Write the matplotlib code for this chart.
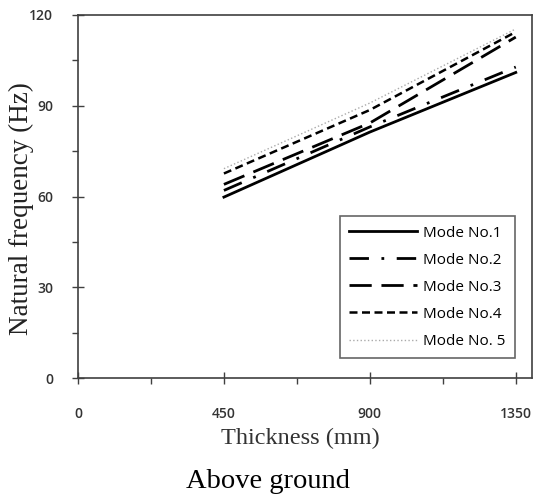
import numpy as np
import matplotlib.pyplot as plt
from matplotlib.ticker import MultipleLocator

thickness = [450, 900, 1350]
mode1 = [59.8, 81.3, 101.0]
mode2 = [62.0, 83.0, 102.8]
mode3 = [64.0, 84.3, 112.7]
mode4 = [67.6, 88.6, 114.4]
mode5 = [69.2, 90.9, 115.4]
labels = ["Mode No.1", "Mode No.2", "Mode No.3", "Mode No.4", "Mode No. 5"]

fig = plt.figure(figsize=(5.36, 5.0), dpi=100)
ax = fig.add_axes([0.1455, 0.244, 0.847, 0.726])

ax.plot(thickness, mode1, color="black", lw=2.0, label=labels[0])
ax.plot(thickness, mode2, color="black", lw=2.0, dashes=(7, 4.5, 1, 4.5), label=labels[1])
ax.plot(thickness, mode3, color="black", lw=2.0, dashes=(8, 3.5), label=labels[2])
ax.plot(thickness, mode4, color="black", lw=1.8, dashes=(3.2, 1.8), label=labels[3])
ax.plot(thickness, mode5, color="#aaaaaa", lw=1.0, ls=":", label=labels[4])

ax.set_xlim(0, 1400)
ax.set_ylim(0, 120)
ax.set_xticks([0, 450, 900, 1350])
ax.xaxis.set_minor_locator(MultipleLocator(225))
ax.set_yticks([0, 30, 60, 90, 120])
ax.yaxis.set_minor_locator(MultipleLocator(15))

tick_font = "Open Sans"
ax.tick_params(axis="x", which="major", direction="inout", length=8, width=1,
               color="#404040", pad=17, labelsize=10, labelcolor="#333333")
ax.tick_params(axis="x", which="minor", direction="out", length=4, width=1, color="#404040")
ax.tick_params(axis="y", which="major", direction="inout", length=8, width=1,
               color="#404040", pad=14, labelsize=10, labelcolor="#333333")
ax.tick_params(axis="y", which="minor", direction="out", length=4, width=1, color="#404040")
for lab in ax.get_xticklabels() + ax.get_yticklabels():
    lab.set_fontfamily(tick_font)
    lab.set_fontweight("semibold")

for sp in ax.spines.values():
    sp.set_color("#404040")
    sp.set_linewidth(1.2)

ax.set_xlabel("Thickness (mm)", family="Liberation Serif", fontsize=17.5,
              color="#333333")
ax.xaxis.set_label_coords(0.489, -0.138)
ax.set_ylabel("Natural frequency (Hz)", family="Liberation Serif", fontsize=19.5,
              color="#222222")
ax.yaxis.set_label_coords(-0.097, 0.468)

leg = ax.legend(loc="lower right", bbox_to_anchor=(0.9626, 0.055), borderaxespad=0,
                handlelength=4.45, prop={"family": tick_font, "size": 11},
                frameon=True, fancybox=False, labelspacing=0.79, borderpad=0.6,
                handletextpad=0.4)
leg.get_frame().set_edgecolor("#404040")
leg.get_frame().set_linewidth(1.2)

fig.text(0.5, 0.038, "Above ground", family="Liberation Serif", fontsize=20.5,
         ha="center", va="center", color="black")

fig.savefig("out.png", dpi=100)
